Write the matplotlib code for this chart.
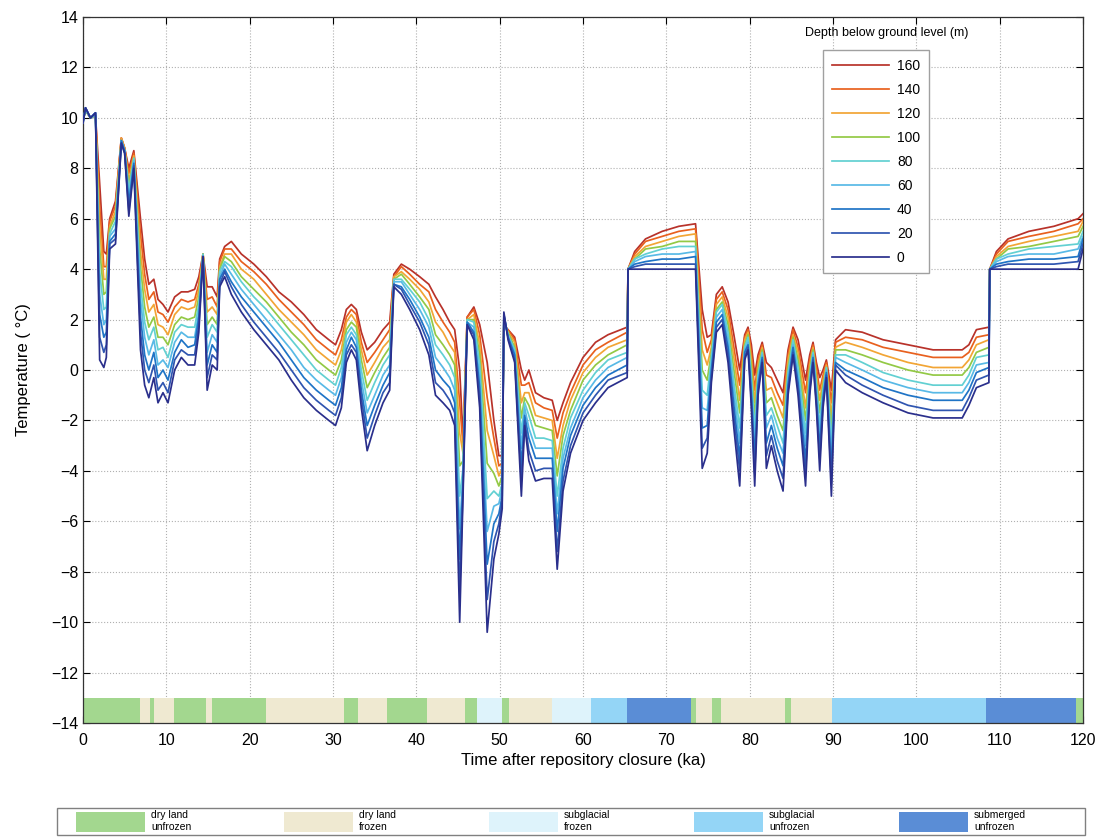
import matplotlib
matplotlib.use("Agg")
import matplotlib.pyplot as plt
from matplotlib.patches import Patch, Rectangle

plt.rcParams['font.family'] = ['Liberation Sans', 'DejaVu Sans']

# time after closure (ka)
time_ka = [0.0, 0.3, 0.9, 1.5, 2.0, 2.5, 2.8, 3.2, 3.9, 4.6,
           5.0, 5.5, 6.1, 6.9, 7.4, 7.9, 8.5, 9.0, 9.6, 10.2,
           11.0, 11.8, 12.6, 13.4, 13.9, 14.4, 14.9, 15.5, 16.1, 16.4,
           17.0, 17.8, 19.0, 20.5, 22.0, 23.5, 25.0, 26.5, 28.0, 29.5,
           30.3, 31.0, 31.6, 32.2, 32.8, 33.4, 34.1, 35.0, 36.0, 36.8,
           37.3, 38.2, 39.2, 40.4, 41.5, 42.3, 43.2, 44.0, 44.6, 45.2,
           45.6, 46.1, 46.9, 47.6, 48.5, 49.3, 49.9, 50.3, 50.5, 51.0,
           51.8, 52.6, 53.0, 53.5, 54.3, 55.3, 56.3, 56.9, 57.6, 58.5,
           60.0, 61.5, 63.0, 65.3, 65.4, 66.2, 67.5, 69.5, 71.5, 73.5,
           74.3, 74.9, 75.4, 76.0, 76.7, 77.4, 78.1, 78.8, 79.4, 79.8,
           80.2, 80.6, 81.0, 81.5, 82.0, 82.6, 83.3, 84.0, 84.6, 85.2,
           85.8, 86.7, 87.2, 87.6, 88.0, 88.4, 88.8, 89.2, 89.8, 90.3,
           91.5, 93.5, 96.0, 99.0, 102.0, 105.5, 106.3, 107.2, 108.7, 108.8,
           109.6, 111.0, 113.5, 116.5, 119.4, 120.0]

# temperature (deg C) at each depth below ground level
temp_0m = [9.8, 10.4, 10.0, 10.2, 0.4, 0.1, 0.5, 4.8, 5.0, 9.0,
           8.6, 6.1, 8.0, 0.8, -0.6, -1.1, -0.3, -1.3, -0.9, -1.3,
           0.0, 0.5, 0.2, 0.2, 1.5, 4.5, -0.8, 0.2, 0.0, 3.3,
           3.7, 3.0, 2.3, 1.6, 1.0, 0.4, -0.4, -1.1, -1.6, -2.0,
           -2.2, -1.5, 0.3, 0.8, 0.4, -1.5, -3.2, -2.2, -1.3, -0.8,
           3.3, 3.0, 2.4, 1.6, 0.6, -1.0, -1.3, -1.6, -2.2, -10.0,
           -5.0, 1.8, 1.2, -1.5, -10.4, -7.5, -6.5, -5.5, 2.3, 1.2,
           0.3, -5.0, -2.2, -3.6, -4.4, -4.3, -4.3, -7.9, -4.8, -3.3,
           -2.0, -1.3, -0.7, -0.3, 4.0, 4.0, 4.0, 4.0, 4.0, 4.0,
           -3.9, -3.3, -0.5, 1.5, 1.8, 0.3, -2.3, -4.6, 0.4, 0.8,
           -1.5, -4.6, -1.0, 0.3, -3.9, -3.0, -4.0, -4.8, -1.0, 0.6,
           -1.0, -4.6, -1.0, 0.3, -1.5, -4.0, -1.5, -0.3, -5.0, 0.0,
           -0.5, -0.9, -1.3, -1.7, -1.9, -1.9, -1.4, -0.7, -0.5, 4.0,
           4.0, 4.0, 4.0, 4.0, 4.0, 4.8]
temp_20m = [9.8, 10.4, 10.0, 10.2, 1.3, 0.7, 1.0, 5.0, 5.2, 9.0,
            8.6, 6.3, 8.1, 1.5, 0.0, -0.5, 0.2, -0.8, -0.5, -0.9,
            0.4, 0.8, 0.6, 0.6, 1.8, 4.5, -0.3, 0.6, 0.4, 3.4,
            3.9, 3.3, 2.6, 1.9, 1.3, 0.7, 0.0, -0.7, -1.2, -1.6,
            -1.8, -1.1, 0.6, 1.0, 0.7, -1.1, -2.7, -1.8, -0.9, -0.5,
            3.4, 3.2, 2.6, 1.9, 1.0, -0.5, -0.8, -1.2, -1.7, -8.8,
            -4.7, 1.8, 1.4, -1.1, -9.1, -6.8, -6.1, -5.2, 2.2, 1.3,
            0.4, -4.4, -2.0, -3.2, -4.0, -3.9, -3.9, -7.2, -4.4, -3.0,
            -1.7, -1.0, -0.4, -0.1, 4.0, 4.1, 4.2, 4.2, 4.2, 4.2,
            -3.1, -2.7, -0.3, 1.7, 2.0, 0.6, -1.8, -4.0, 0.5, 0.9,
            -1.2, -4.1, -0.8, 0.4, -3.4, -2.6, -3.6, -4.3, -0.8, 0.7,
            -0.7, -4.1, -0.8, 0.4, -1.3, -3.5, -1.3, -0.2, -4.5, 0.2,
            -0.2, -0.6, -1.0, -1.4, -1.6, -1.6, -1.1, -0.4, -0.2, 4.0,
            4.1, 4.2, 4.2, 4.2, 4.3, 5.0]
temp_40m = [9.8, 10.4, 10.0, 10.2, 2.2, 1.3, 1.5, 5.1, 5.4, 9.1,
            8.7, 6.6, 8.2, 2.1, 0.6, 0.0, 0.7, -0.3, 0.0, -0.4,
            0.7, 1.2, 0.9, 1.0, 2.1, 4.5, 0.2, 1.0, 0.7, 3.6,
            4.0, 3.5, 2.9, 2.3, 1.7, 1.1, 0.4, -0.3, -0.8, -1.2,
            -1.4, -0.7, 0.8, 1.3, 0.9, -0.8, -2.2, -1.4, -0.6, -0.1,
            3.4, 3.3, 2.8, 2.1, 1.3, 0.0, -0.4, -0.7, -1.3, -7.5,
            -4.4, 1.9, 1.5, -0.7, -7.7, -6.1, -5.7, -5.0, 2.2, 1.3,
            0.6, -3.8, -1.8, -2.7, -3.5, -3.5, -3.5, -6.4, -3.9, -2.6,
            -1.4, -0.7, -0.2, 0.2, 4.0, 4.2, 4.3, 4.4, 4.4, 4.5,
            -2.3, -2.2, 0.0, 1.9, 2.2, 0.9, -1.4, -3.5, 0.7, 1.0,
            -0.9, -3.5, -0.6, 0.5, -2.9, -2.2, -3.1, -3.8, -0.6, 0.9,
            -0.5, -3.6, -0.6, 0.5, -1.1, -3.1, -1.1, -0.1, -4.0, 0.3,
            0.0, -0.3, -0.7, -1.0, -1.2, -1.2, -0.8, -0.1, 0.1, 4.0,
            4.2, 4.3, 4.4, 4.4, 4.5, 5.2]
temp_60m = [9.8, 10.4, 10.0, 10.2, 3.0, 1.8, 2.0, 5.3, 5.6, 9.1,
            8.7, 6.8, 8.3, 2.8, 1.3, 0.6, 1.2, 0.2, 0.4, 0.1,
            1.1, 1.5, 1.3, 1.3, 2.3, 4.5, 0.7, 1.4, 1.1, 3.7,
            4.2, 3.8, 3.2, 2.6, 2.0, 1.4, 0.8, 0.1, -0.4, -0.8,
            -1.0, -0.3, 1.1, 1.5, 1.2, -0.4, -1.7, -1.0, -0.2, 0.2,
            3.5, 3.5, 3.0, 2.4, 1.7, 0.5, 0.1, -0.3, -0.8, -6.3,
            -4.1, 1.9, 1.7, -0.3, -6.4, -5.4, -5.3, -4.7, 2.1, 1.4,
            0.7, -3.1, -1.5, -2.3, -3.1, -3.1, -3.1, -5.7, -3.5, -2.3,
            -1.1, -0.4, 0.1, 0.5, 4.0, 4.3, 4.5, 4.6, 4.6, 4.7,
            -1.5, -1.6, 0.2, 2.1, 2.4, 1.2, -0.9, -2.9, 0.8, 1.1,
            -0.6, -3.0, -0.4, 0.6, -2.3, -1.8, -2.7, -3.3, -0.3, 1.0,
            -0.2, -3.0, -0.4, 0.6, -0.8, -2.6, -0.9, 0.0, -3.4, 0.5,
            0.3, 0.0, -0.4, -0.7, -0.9, -0.9, -0.5, 0.2, 0.3, 4.0,
            4.3, 4.5, 4.6, 4.6, 4.8, 5.3]
temp_80m = [9.9, 10.3, 10.0, 10.1, 3.9, 2.4, 2.5, 5.4, 5.9, 9.1,
            8.7, 7.1, 8.4, 3.4, 1.9, 1.2, 1.7, 0.8, 0.9, 0.5,
            1.5, 1.8, 1.7, 1.7, 2.6, 4.6, 1.3, 1.8, 1.5, 3.9,
            4.3, 4.1, 3.5, 2.9, 2.4, 1.8, 1.2, 0.6, 0.0, -0.4,
            -0.6, 0.1, 1.4, 1.7, 1.4, 0.0, -1.2, -0.5, 0.2, 0.6,
            3.6, 3.6, 3.2, 2.7, 2.0, 1.0, 0.6, 0.2, -0.3, -5.0,
            -3.9, 2.0, 1.9, 0.2, -5.1, -4.8, -5.0, -4.5, 2.0, 1.4,
            0.8, -2.5, -1.3, -1.8, -2.7, -2.7, -2.8, -5.0, -3.1, -1.9,
            -0.8, -0.1, 0.4, 0.7, 4.0, 4.4, 4.6, 4.8, 4.9, 4.9,
            -0.8, -1.0, 0.5, 2.3, 2.6, 1.5, -0.5, -2.3, 0.9, 1.3,
            -0.3, -2.4, -0.2, 0.7, -1.8, -1.5, -2.2, -2.9, -0.1, 1.2,
            0.1, -2.5, -0.2, 0.7, -0.6, -2.2, -0.8, 0.1, -2.9, 0.6,
            0.6, 0.3, -0.1, -0.4, -0.6, -0.6, -0.2, 0.5, 0.6, 4.0,
            4.4, 4.6, 4.8, 4.9, 5.0, 5.5]
temp_100m = [9.9, 10.3, 10.0, 10.1, 4.8, 3.0, 3.1, 5.6, 6.1, 9.1,
             8.7, 7.3, 8.4, 4.1, 2.5, 1.7, 2.1, 1.3, 1.3, 1.0,
             1.8, 2.1, 2.0, 2.1, 2.9, 4.6, 1.8, 2.1, 1.8, 4.0,
             4.5, 4.3, 3.7, 3.2, 2.7, 2.1, 1.5, 1.0, 0.4, 0.0,
             -0.2, 0.4, 1.6, 1.9, 1.7, 0.4, -0.7, -0.1, 0.5, 0.9,
             3.6, 3.8, 3.4, 2.9, 2.4, 1.4, 1.0, 0.6, 0.2, -3.8,
             -3.6, 2.0, 2.0, 0.6, -3.7, -4.1, -4.6, -4.2, 1.9, 1.5,
             0.9, -1.9, -1.1, -1.4, -2.2, -2.3, -2.4, -4.2, -2.6, -1.6,
             -0.4, 0.2, 0.6, 1.0, 4.0, 4.4, 4.8, 4.9, 5.1, 5.1,
             0.0, -0.4, 0.7, 2.4, 2.7, 1.8, 0.0, -1.7, 1.0, 1.4,
             0.1, -1.9, 0.0, 0.8, -1.3, -1.1, -1.8, -2.4, 0.1, 1.3,
             0.4, -2.0, 0.0, 0.8, -0.4, -1.7, -0.6, 0.1, -2.4, 0.8,
             0.8, 0.6, 0.3, 0.0, -0.2, -0.2, 0.1, 0.7, 0.9, 4.0,
             4.4, 4.8, 4.9, 5.1, 5.3, 5.7]
temp_120m = [9.9, 10.3, 10.0, 10.1, 5.7, 3.6, 3.6, 5.7, 6.3, 9.2,
             8.8, 7.5, 8.5, 4.7, 3.2, 2.3, 2.6, 1.8, 1.7, 1.4,
             2.2, 2.5, 2.4, 2.5, 3.2, 4.6, 2.3, 2.5, 2.2, 4.1,
             4.6, 4.6, 4.0, 3.6, 3.0, 2.4, 1.9, 1.4, 0.8, 0.4,
             0.2, 0.8, 1.9, 2.2, 1.9, 0.8, -0.2, 0.3, 0.9, 1.2,
             3.7, 3.9, 3.6, 3.2, 2.7, 1.9, 1.5, 1.0, 0.7, -2.5,
             -3.3, 2.0, 2.2, 1.0, -2.4, -3.4, -4.2, -3.9, 1.9, 1.5,
             1.1, -1.3, -0.9, -0.9, -1.8, -1.9, -2.0, -3.5, -2.2, -1.2,
             -0.1, 0.5, 0.9, 1.2, 4.0, 4.5, 4.9, 5.1, 5.3, 5.4,
             0.8, 0.2, 0.9, 2.6, 2.9, 2.1, 0.5, -1.2, 1.2, 1.5,
             0.4, -1.3, 0.2, 0.9, -0.8, -0.7, -1.3, -1.9, 0.4, 1.4,
             0.7, -1.5, 0.2, 0.9, -0.2, -1.2, -0.4, 0.2, -1.9, 0.9,
             1.1, 0.9, 0.6, 0.3, 0.1, 0.1, 0.4, 1.0, 1.2, 4.0,
             4.5, 4.9, 5.1, 5.3, 5.5, 5.9]
temp_140m = [9.9, 10.3, 10.0, 10.1, 6.5, 4.1, 4.1, 5.9, 6.5, 9.2,
             8.8, 7.8, 8.6, 5.4, 3.8, 2.8, 3.1, 2.3, 2.2, 1.9,
             2.5, 2.8, 2.7, 2.8, 3.4, 4.6, 2.8, 2.9, 2.5, 4.3,
             4.8, 4.8, 4.3, 3.9, 3.4, 2.8, 2.3, 1.8, 1.2, 0.8,
             0.6, 1.2, 2.1, 2.4, 2.2, 1.1, 0.3, 0.7, 1.2, 1.6,
             3.7, 4.1, 3.8, 3.4, 3.1, 2.4, 1.9, 1.5, 1.1, -1.3,
             -3.0, 2.1, 2.4, 1.4, -1.1, -2.7, -3.8, -3.7, 1.8, 1.6,
             1.2, -0.6, -0.6, -0.5, -1.3, -1.5, -1.6, -2.7, -1.7, -0.9,
             0.2, 0.8, 1.1, 1.5, 4.0, 4.6, 5.1, 5.3, 5.5, 5.6,
             1.6, 0.7, 1.2, 2.8, 3.1, 2.4, 0.9, -0.6, 1.3, 1.6,
             0.7, -0.8, 0.4, 1.0, -0.2, -0.3, -0.9, -1.4, 0.6, 1.6,
             0.9, -0.9, 0.4, 1.0, 0.1, -0.8, -0.2, 0.3, -1.3, 1.1,
             1.3, 1.2, 0.9, 0.7, 0.5, 0.5, 0.7, 1.3, 1.4, 4.0,
             4.6, 5.1, 5.3, 5.5, 5.8, 6.0]
temp_160m = [9.9, 10.3, 10.0, 10.1, 7.4, 4.7, 4.6, 6.0, 6.7, 9.2,
             8.8, 8.0, 8.7, 6.0, 4.4, 3.4, 3.6, 2.8, 2.6, 2.3,
             2.9, 3.1, 3.1, 3.2, 3.7, 4.6, 3.3, 3.3, 2.9, 4.4,
             4.9, 5.1, 4.6, 4.2, 3.7, 3.1, 2.7, 2.2, 1.6, 1.2,
             1.0, 1.6, 2.4, 2.6, 2.4, 1.5, 0.8, 1.1, 1.6, 1.9,
             3.8, 4.2, 4.0, 3.7, 3.4, 2.9, 2.4, 1.9, 1.6, 0.0,
             -2.7, 2.1, 2.5, 1.8, 0.3, -2.0, -3.4, -3.4, 1.7, 1.6,
             1.3, 0.0, -0.4, 0.0, -0.9, -1.1, -1.2, -2.0, -1.3, -0.5,
             0.5, 1.1, 1.4, 1.7, 4.0, 4.7, 5.2, 5.5, 5.7, 5.8,
             2.4, 1.3, 1.4, 3.0, 3.3, 2.7, 1.4, 0.0, 1.4, 1.7,
             1.0, -0.2, 0.6, 1.1, 0.3, 0.1, -0.4, -0.9, 0.8, 1.7,
             1.2, -0.4, 0.6, 1.1, 0.3, -0.3, 0.0, 0.4, -0.8, 1.2,
             1.6, 1.5, 1.2, 1.0, 0.8, 0.8, 1.0, 1.6, 1.7, 4.0,
             4.7, 5.2, 5.5, 5.7, 6.0, 6.2]

depth_labels = ['160', '140', '120', '100', '80', '60', '40', '20', '0']
depth_series = [temp_160m, temp_140m, temp_120m, temp_100m, temp_80m,
                temp_60m, temp_40m, temp_20m, temp_0m]
depth_colors = ['#b8322a', '#e8601e', '#f2a535', '#93c945', '#62d0d2',
                '#58b9e6', '#1f74c6', '#2f55b0', '#2a2f8c']

# climate domain band along the time axis
domain_names = ['dry land\nunfrozen', 'dry land\nfrozen', 'subglacial\nfrozen',
                'subglacial\nunfrozen', 'submerged\nunfrozen']
domain_colors = ['#a3d78f', '#efe9d1', '#def3fb', '#94d5f6', '#5a8dd6']
domain_start = [0.0, 6.8, 8.0, 8.5, 10.9, 14.8, 15.5, 21.9, 31.3, 33.0,
                36.5, 41.3, 45.8, 47.3, 50.3, 51.1, 56.3, 61.0, 65.3, 73.0,
                73.6, 75.5, 76.5, 84.2, 85.0, 89.9, 108.3, 119.2]
domain_end = [6.8, 8.0, 8.5, 10.9, 14.8, 15.5, 21.9, 31.3, 33.0, 36.5,
              41.3, 45.8, 47.3, 50.3, 51.1, 56.3, 61.0, 65.3, 73.0, 73.6,
              75.5, 76.5, 84.2, 85.0, 89.9, 108.3, 119.2, 120.0]
domain_index = [0, 1, 0, 1, 0, 1, 0, 1, 0, 1,
                0, 1, 0, 2, 0, 1, 2, 3, 4, 0,
                1, 0, 1, 0, 1, 3, 4, 0]

W, H = 1108, 838
fig = plt.figure(figsize=(W / 100, H / 100), dpi=100)
ax = fig.add_axes([0.0749, 0.1372, 0.9026, 0.8425])

ax.barh([-13.5] * len(domain_start),
        [e - s for s, e in zip(domain_start, domain_end)],
        left=domain_start, height=1.0,
        color=[domain_colors[i] for i in domain_index], linewidth=0, zorder=1)

lines = []
for vals, lab, col in zip(depth_series, depth_labels, depth_colors):
    ln, = ax.plot(time_ka, vals, color=col, linewidth=1.25, label=lab, zorder=3)
    lines.append(ln)

ax.set_xlim(0, 120)
ax.set_ylim(-14, 14)
ax.set_xticks(range(0, 121, 10))
ax.set_yticks(range(-14, 15, 2))
ax.grid(True, linestyle=':', color='#b0b0b0', linewidth=0.8, zorder=0)
ax.set_axisbelow(True)
ax.tick_params(direction='in', top=True, right=True, length=5, labelsize=11.5)
ax.tick_params(axis='x', pad=7)
for sp in ax.spines.values():
    sp.set_color('#333333')
    sp.set_linewidth(0.9)

ax.set_xlabel('Time after repository closure (ka)', fontsize=12, labelpad=4)
ax.set_ylabel('Temperature ( °C)', fontsize=12, labelpad=14)

# depth legend, title sits above the box
fig.legend(handles=lines, loc='upper left',
           bbox_to_anchor=(823 / W, 1 - 50 / H),
           fontsize=10, handlelength=4.1, labelspacing=0.72,
           handletextpad=0.6, borderpad=0.62, borderaxespad=0,
           frameon=True, fancybox=False, framealpha=1, edgecolor='#a0a0a0')
fig.text(887 / W, 1 - 33 / H, 'Depth below ground level (m)',
         ha='center', va='center', fontsize=9)

# domain legend under the axis
fig.add_artist(Rectangle((57 / W, 3 / H), 1028 / W, 27 / H,
                         transform=fig.transFigure, fill=False,
                         edgecolor='#808080', linewidth=1.0))
entry_x = [76, 284, 489, 694, 899]
for name, col, x0 in zip(domain_names, domain_colors, entry_x):
    fig.legend(handles=[Patch(facecolor=col, edgecolor='none')], labels=[name],
               loc='center left', bbox_to_anchor=(x0 / W, 1 - 821 / H),
               fontsize=7.5, handlelength=6.6, handleheight=2.5,
               handletextpad=0.6, borderpad=0, borderaxespad=0, frameon=False)

fig.savefig('out.png', dpi=100)
